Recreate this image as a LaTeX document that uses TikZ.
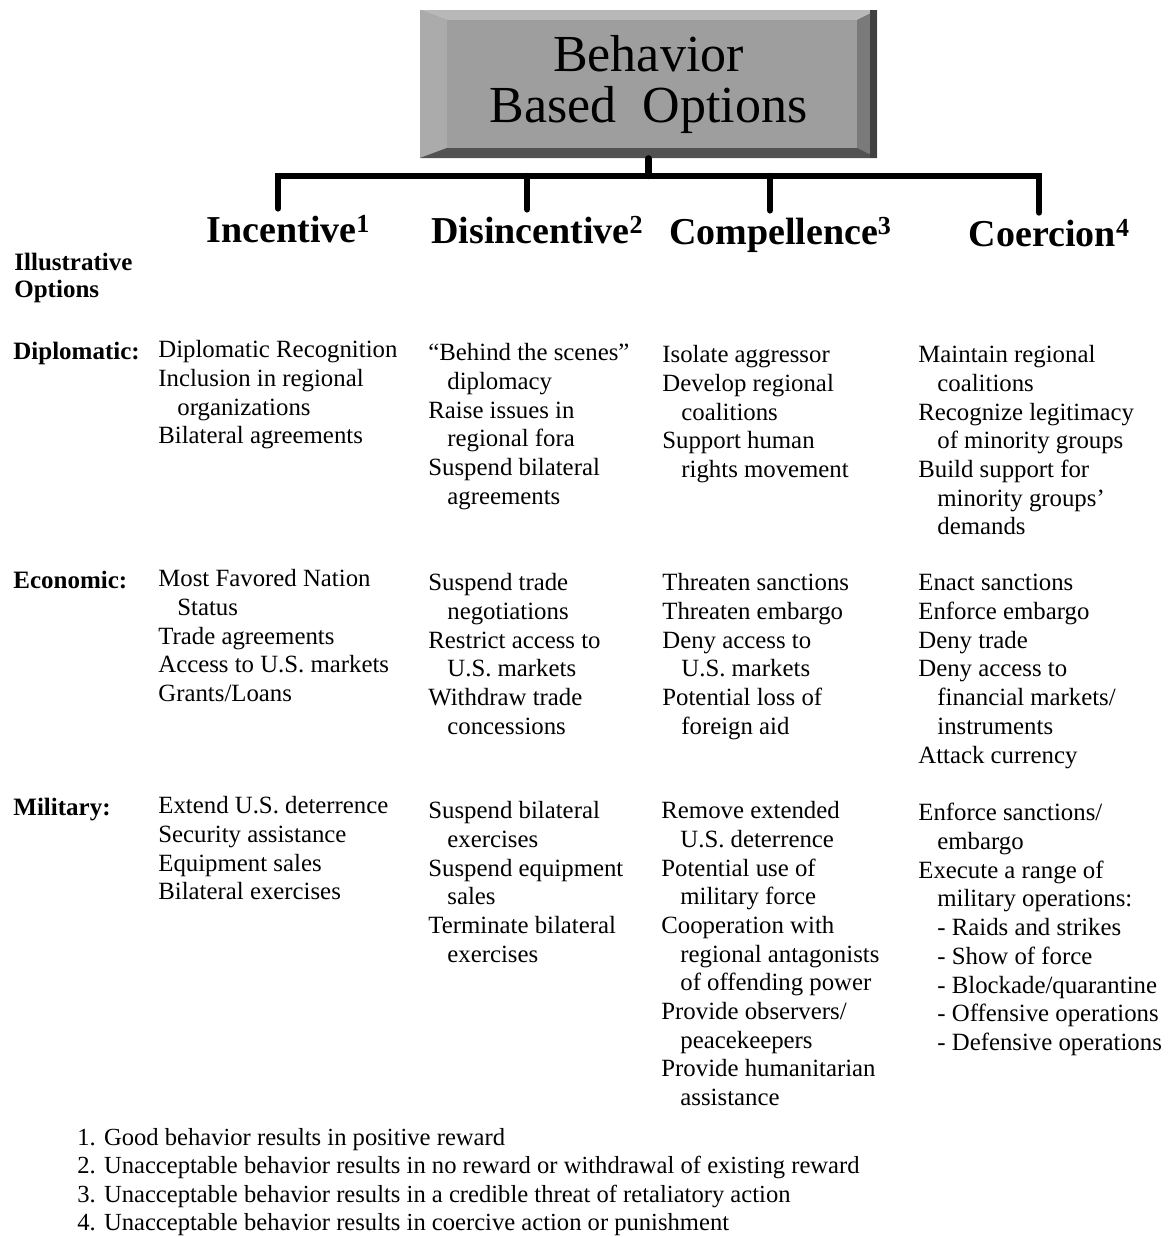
\documentclass[tikz,border=0pt]{standalone}
\usepackage{fontspec}
\setmainfont{Liberation Serif}
\usetikzlibrary{calc}

\newcommand\indt{\hspace*{9.5pt}}
\newcommand\fnmark[1]{\raisebox{5pt}{\fontsize{13}{13}\selectfont #1}}

\begin{document}
\begin{tikzpicture}[x=0.5pt, y=-0.5pt,
    cell/.style={anchor=north west, align=left, inner sep=0pt,
        execute at begin node=\strut,
        font=\fontsize{12.4}{14.35}\selectfont},
    rowlabel/.style={anchor=north west, align=left, inner sep=0pt,
        execute at begin node=\strut,
        font=\fontsize{12.5}{13.4}\selectfont\bfseries},
    heading/.style={anchor=base, inner sep=0pt,
        font=\fontsize{19}{22}\selectfont\bfseries},
    branch/.style={line width=3.2pt, line cap=round, line join=miter},
    titlebox/.style={minimum width=228.5pt, minimum height=74pt, inner sep=0pt,
        align=center, fill=black!45, font=\fontsize{26}{25.5}\selectfont,
        path picture={
            % bevelled frame
            \fill[black!28] (path picture bounding box.north west) -- (path picture bounding box.north east)
                -- ([shift={(-10pt,-5pt)}]path picture bounding box.north east)
                -- ([shift={(13.5pt,-5pt)}]path picture bounding box.north west) -- cycle;
            \fill[black!33] (path picture bounding box.north west) -- ([shift={(13.5pt,-5pt)}]path picture bounding box.north west)
                -- ([shift={(13.5pt,5pt)}]path picture bounding box.south west)
                -- (path picture bounding box.south west) -- cycle;
            \fill[black!52] (path picture bounding box.north east) -- ([shift={(-10pt,-5pt)}]path picture bounding box.north east)
                -- ([shift={(-10pt,5pt)}]path picture bounding box.south east)
                -- (path picture bounding box.south east) -- cycle;
            \fill[black!68] (path picture bounding box.south west) -- (path picture bounding box.south east)
                -- ([shift={(-10pt,5pt)}]path picture bounding box.south east)
                -- ([shift={(13.5pt,5pt)}]path picture bounding box.south west) -- cycle;
            \fill[black!38] ([shift={(13.5pt,-5pt)}]path picture bounding box.north west)
                rectangle ([shift={(-10pt,5pt)}]path picture bounding box.south east);
            \fill[black!75] ([xshift=-3.5pt]path picture bounding box.north east)
                rectangle (path picture bounding box.south east);
        }}]
\useasboundingbox (0,0) rectangle (1170,1237);

% title and the four kinds of option
\node[titlebox] (title) at (648.5,84) {Behavior\\Based\ \ Options};
\node[heading] (inc) at (288,242) {Incentive\fnmark{1}};
\node[heading] (dis) at (537,243) {Disincentive\fnmark{2}};
\node[heading] (comp) at (780,244) {Compellence\fnmark{3}};
\node[heading] (coer) at (1049,246) {Coercion\fnmark{4}};

\coordinate (hub) at (650,176);
\coordinate (d1) at ([xshift=-5pt,yshift=3pt]inc.north);
\coordinate (d2) at ([xshift=-5pt,yshift=3pt]dis.north);
\coordinate (d3) at ([xshift=-5pt,yshift=3pt]comp.north);
\coordinate (d4) at ([xshift=-5pt,yshift=3pt]coer.north);
\draw[branch] (title.south) -- (title.south |- hub);
\draw[branch] (d1) -- (d1 |- hub) -- (d4 |- hub) -- (d4);
\draw[branch] (d2) -- (d2 |- hub);
\draw[branch] (d3) -- (d3 |- hub);

% row labels
\node[rowlabel] (illus) at (14,253) {Illustrative\\Options};
\node[rowlabel] (dip) at (13,340) {Diplomatic:};
\node[rowlabel] (eco) at (13,569) {Economic:};
\node[rowlabel] (mil) at (13,796) {Military:};

% diplomatic
\node[cell] (dipInc) at (158,340) {Diplomatic Recognition\\Inclusion in regional\\\indt organizations\\Bilateral agreements};
\node[cell] (dipDis) at (428,343) {“Behind the scenes”\\\indt diplomacy\\Raise issues in\\\indt regional fora\\Suspend bilateral\\\indt agreements};
\node[cell] (dipComp) at (662,345) {Isolate aggressor\\Develop regional\\\indt coalitions\\Support human\\\indt rights movement};
\node[cell] (dipCoer) at (918,345) {Maintain regional\\\indt coalitions\\Recognize legitimacy\\\indt of minority groups\\Build support for\\\indt minority groups'\\\indt demands};

% economic
\node[cell] (ecoInc) at (158,569) {Most Favored Nation\\\indt Status\\Trade agreements\\Access to U.S. markets\\Grants/Loans};
\node[cell] (ecoDis) at (428,573) {Suspend trade\\\indt negotiations\\Restrict access to\\\indt U.S. markets\\Withdraw trade\\\indt concessions};
\node[cell] (ecoComp) at (662,573) {Threaten sanctions\\Threaten embargo\\Deny access to\\\indt U.S. markets\\Potential loss of\\\indt foreign aid};
\node[cell] (ecoCoer) at (918,574) {Enact sanctions\\Enforce embargo\\Deny trade\\Deny access to\\\indt financial markets/\\\indt instruments\\Attack currency};

% military
\node[cell] (milInc) at (158,796) {Extend U.S. deterrence\\Security assistance\\Equipment sales\\Bilateral exercises};
\node[cell] (milDis) at (428,801) {Suspend bilateral\\\indt exercises\\Suspend equipment\\\indt sales\\Terminate bilateral\\\indt exercises};
\node[cell] (milComp) at (661,801) {Remove extended\\\indt U.S. deterrence\\Potential use of\\\indt military force\\Cooperation with\\\indt regional antagonists\\\indt of offending power\\Provide observers/\\\indt peacekeepers\\Provide humanitarian\\\indt assistance};
\node[cell] (milCoer) at (918,803) {Enforce sanctions/\\\indt embargo\\Execute a range of\\\indt military operations:\\\indt - Raids and strikes\\\indt - Show of force\\\indt - Blockade/quarantine\\\indt - Offensive operations\\\indt - Defensive operations};

% footnotes
\node[cell, font=\fontsize{12.3}{14.2}\selectfont] (notes) at (77,1128) {1. Good behavior results in positive reward\\2. Unacceptable behavior results in no reward or withdrawal of existing reward\\3. Unacceptable behavior results in a credible threat of retaliatory action\\4. Unacceptable behavior results in coercive action or punishment};
\end{tikzpicture}
\end{document}
